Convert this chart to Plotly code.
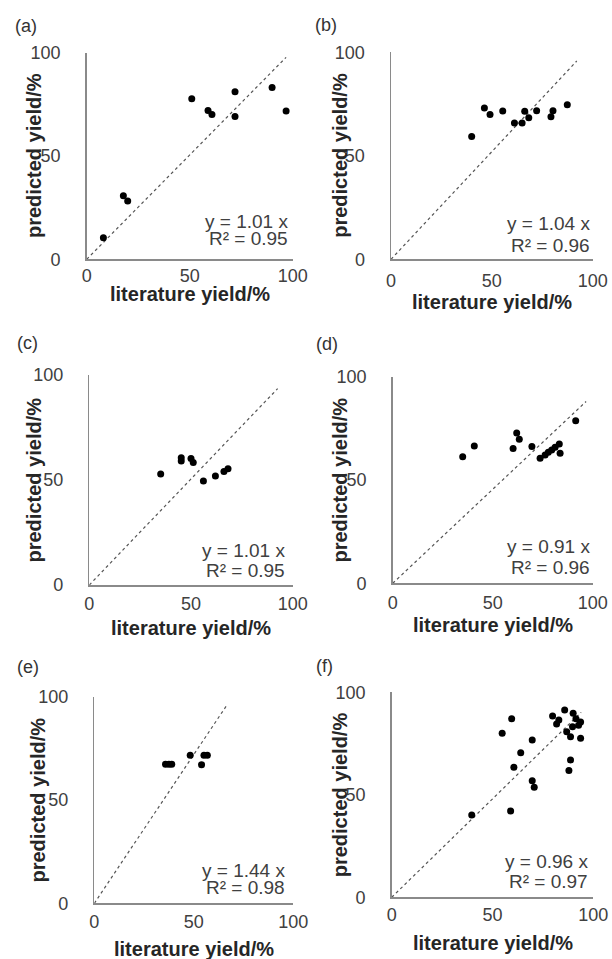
import plotly.graph_objects as go

W, H = 612, 959

panel_labels = ["(a)", "(b)", "(c)", "(d)", "(e)", "(f)"]

a_lit = [8.1, 17.8, 19.9, 51.0, 58.9, 60.8, 72.0, 72.0, 90.0, 96.8]
a_pred = [10.4, 30.7, 28.2, 77.7, 72.0, 70.1, 81.1, 69.1, 83.2, 71.8]

b_lit = [40.0, 46.3, 49.1, 55.4, 61.2, 65.0, 66.3, 68.3, 72.2, 79.3, 80.3, 87.4]
b_pred = [59.3, 73.1, 70.0, 71.7, 65.9, 65.9, 71.5, 68.4, 71.8, 68.9, 71.8, 74.7]

c_lit = [35.1, 45.2, 45.2, 50.0, 51.1, 56.1, 62.0, 66.2, 68.2]
c_pred = [52.9, 60.6, 59.0, 60.2, 58.3, 49.5, 51.9, 54.1, 55.4]

d_lit = [35.0, 40.8, 60.2, 62.0, 63.3, 69.6, 73.7, 76.2, 77.8, 79.5, 81.2, 83.3, 83.7, 91.5]
d_pred = [61.3, 66.5, 65.2, 72.7, 69.7, 66.2, 60.5, 62.1, 63.4, 64.5, 65.8, 67.4, 62.9, 78.7]

e_lit = [35.8, 37.5, 38.9, 48.2, 53.9, 55.1, 56.8]
e_pred = [67.3, 67.3, 67.3, 71.6, 67.1, 71.6, 71.6]

f_lit = [59.5, 54.8, 69.7, 64.0, 60.6, 69.7, 70.7, 79.8, 82.9, 81.8, 85.8, 90.0,
         91.4, 93.7, 92.7, 89.7, 86.8, 88.7, 93.7, 88.7, 87.9, 59.0, 39.7]
f_pred = [87.1, 80.0, 76.7, 70.5, 63.4, 56.9, 53.7, 88.4, 86.5, 84.5, 91.4, 89.8,
          87.1, 85.5, 83.9, 83.2, 80.8, 78.3, 77.6, 67.0, 61.8, 42.1, 40.1]

slopes = [1.01, 1.04, 1.01, 0.91, 1.44, 0.96]
r2 = [0.95, 0.96, 0.95, 0.96, 0.98, 0.97]
trend_end = [96.8, 92.1, 92.6, 96.7, 66.2, 94.0]

tick_vals = [0, 50, 100]
tick_text = ["0", "50", "100"]
x_title = "literature yield/%"
y_title = "predicted yield/%"

lit = [a_lit, b_lit, c_lit, d_lit, e_lit, f_lit]
pred = [a_pred, b_pred, c_pred, d_pred, e_pred, f_pred]

# layout geometry in pixels: (left, right, top, bottom)
boxes = [
    (86.7, 292.7, 52.7, 259.3),
    (391.0, 592.7, 52.3, 259.3),
    (89.3, 292.7, 375.0, 585.0),
    (392.7, 592.7, 376.7, 583.3),
    (94.3, 293.3, 696.7, 903.3),
    (391.7, 593.3, 692.3, 897.3),
]
label_pos = [(12.5, 25.5), (312.5, 25), (14.5, 343), (314, 344), (14.5, 666.5), (314, 666)]
eq_pos = [(290, 221.7, 238.3), (592, 223.3, 245.7), (287, 550, 570),
          (592, 546.7, 567.3), (287, 870, 887.3), (590, 861.7, 881.7)]
xt_center = [294, 302, 628, 625, 949, 943]
yt_center_x = [34, 340, 33.5, 339.5, 37.5, 339.5]
xlab_standoff = [0, 5, 2, 3, 2, 1]


def px(x):
    return x / W


def py(y):
    return 1 - y / H


FONT = "Liberation Sans, Arial, sans-serif"
fig = go.Figure()
layout = dict(
    width=W, height=H, margin=dict(l=0, r=0, t=0, b=0, pad=0), autosize=False,
    paper_bgcolor="white", plot_bgcolor="white", showlegend=False,
    font=dict(family=FONT, color="#404040"),
)
annotations = []

for i in range(6):
    s = "" if i == 0 else str(i + 1)
    l, r, t, b = boxes[i]
    xa = dict(domain=[px(l), px(r)], range=[0, 100], showgrid=False, zeroline=False,
              showline=True, linecolor="#8a8a8a", linewidth=1.5, ticks="",
              tickvals=tick_vals, ticktext=tick_text, automargin=False,
              tickfont=dict(size=18, color="#404040", family=FONT),
              ticklabelstandoff=xlab_standoff[i],
              anchor="y" + s, fixedrange=True)
    ya = dict(domain=[py(b), py(t)], range=[0, 100], showgrid=False, zeroline=False,
              showline=True, linecolor="#8a8a8a", linewidth=1.5, ticks="",
              tickvals=tick_vals, ticktext=tick_text, automargin=False,
              tickfont=dict(size=18, color="#404040", family=FONT),
              ticklabelstandoff=21,
              anchor="x" + s, fixedrange=True)
    layout["xaxis" + s] = xa
    layout["yaxis" + s] = ya

    te = trend_end[i]
    fig.add_trace(go.Scatter(x=[0, te], y=[0, slopes[i] * te], mode="lines",
                             line=dict(color="#555555", width=1.2, dash="dot"),
                             xaxis="x" + s, yaxis="y" + s, hoverinfo="skip",
                             cliponaxis=False))
    fig.add_trace(go.Scatter(x=lit[i], y=pred[i], mode="markers",
                             marker=dict(color="black", size=7),
                             xaxis="x" + s, yaxis="y" + s, cliponaxis=False))

    lx, ly = label_pos[i]
    annotations.append(dict(text=panel_labels[i], x=px(lx), y=py(ly), xref="paper", yref="paper",
                            xanchor="left", yanchor="middle", showarrow=False,
                            font=dict(size=18, color="#333333", family=FONT)))
    ex, ey1, ey2 = eq_pos[i]
    annotations.append(dict(text=f"y = {slopes[i]:.2f} x", x=px(ex), y=py(ey1),
                            xref="paper", yref="paper", xanchor="right", yanchor="middle",
                            showarrow=False, font=dict(size=19, color="#404040", family=FONT)))
    annotations.append(dict(text=f"R² = {r2[i]:.2f}", x=px(ex), y=py(ey2),
                            xref="paper", yref="paper", xanchor="right", yanchor="middle",
                            showarrow=False, font=dict(size=19, color="#404040", family=FONT)))
    annotations.append(dict(text=f"<b>{x_title}</b>", x=px((l + r) / 2), y=py(xt_center[i]),
                            xref="paper", yref="paper", xanchor="center", yanchor="middle",
                            showarrow=False, font=dict(size=20, color="#262626", family=FONT)))
    annotations.append(dict(text=f"<b>{y_title}</b>", x=px(yt_center_x[i]), y=py((t + b) / 2),
                            xref="paper", yref="paper", xanchor="center", yanchor="middle",
                            textangle=-90, showarrow=False,
                            font=dict(size=20, color="#262626", family=FONT)))

layout["annotations"] = annotations
fig.update_layout(**layout)
fig.write_html("out.html", config={"displayModeBar": False, "staticPlot": True},
               post_script="document.body.style.margin='0';document.body.style.overflow='hidden';")
